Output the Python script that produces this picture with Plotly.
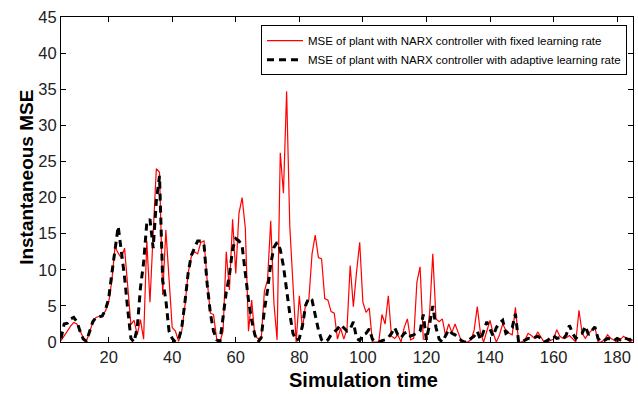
import plotly.graph_objects as go

x_start = 5
fixed_mse = [
    0.2, 0.8, 1.5, 2.2, 2.7, 2.5, 1.6, 0.6, 0.1, 1.3,      # 5-14
    2.7, 3.4, 3.5, 3.7, 4.3, 5.5, 8.5, 13.2, 12.3, 11.6,   # 15-24
    13.0, 7.0, 2.4, 3.0, 1.0, 3.1, 0.4, 14.0, 5.5, 15.0,   # 25-34
    24.0, 23.5, 6.5, 15.5, 8.0, 2.0, 1.5, 0.1, 1.5, 5.0,   # 35-44
    9.5, 11.8, 12.5, 12.2, 13.8, 14.0, 8.5, 4.0, 3.8, 0.4, # 45-54
    0.0, 1.5, 12.5, 7.2, 17.0, 9.5, 17.8, 20.0, 15.8, 1.5, # 55-64
    5.8, 0.8, 0.5, 0.4, 7.0, 8.6, 16.8, 5.4, 0.3, 26.2,    # 65-74
    20.6, 34.7, 16.0, 7.0, 0.0, 6.4, 1.8, 5.4, 5.9, 12.2,  # 75-84
    14.8, 11.7, 11.5, 6.0, 5.8, 4.2, 4.0, 0.4, 1.9, 0.4,   # 85-94
    1.8, 10.6, 4.9, 9.7, 13.8, 5.5, 4.1, 4.7, 0.0, 0.0,    # 95-104
    0.0, 3.8, 2.5, 6.4, 0.8, 0.5, 1.0, 0.0, 2.0, 3.2,      # 105-114
    0.3, 0.5, 8.3, 10.4, 0.4, 0.3, 4.0, 12.2, 3.2, 2.8,    # 115-124
    3.2, 0.9, 2.5, 1.3, 2.5, 1.3, 0.1, 0.0, 0.0, 0.3,      # 125-134
    1.6, 4.9, 1.2, 0.0, 1.5, 3.0, 1.2, 0.0, 1.0, 2.5,      # 135-144
    1.6, 1.2, 1.0, 4.8, 0.0, 0.0, 0.3, 1.2, 0.9, 0.5,      # 145-154
    1.4, 0.6, 0.0, 0.0, 0.2, 0.4, 1.7, 0.8, 0.5, 0.6,      # 155-164
    0.9, 0.4, 0.0, 4.4, 1.2, 0.5, 1.2, 1.6, 2.1, 0.0,      # 165-174
    0.0, 0.3, 1.0, 0.5, 0.2, 0.0, 0.3, 0.8, 0.5, 0.0,      # 175-184
    0.3,                                                   # 185
]
adaptive_mse = [
    0.5, 2.5, 2.6, 3.2, 3.4, 2.8, 1.5, 0.4, 0.1, 1.5,      # 5-14
    2.8, 3.4, 3.5, 3.6, 4.5, 6.0, 9.5, 13.0, 16.0, 12.5,   # 15-24
    9.0, 4.5, 0.5, 0.0, 2.0, 7.5, 11.0, 16.5, 17.0, 13.0,  # 25-34
    19.5, 23.0, 8.5, 5.8, 1.5, 0.5, 0.0, 0.3, 2.0, 5.5,    # 35-44
    9.5, 12.0, 13.0, 14.0, 14.0, 13.5, 8.0, 4.0, 1.5, 0.3, # 45-54
    0.0, 3.2, 6.9, 9.2, 12.9, 14.3, 14.0, 13.3, 9.5, 5.8,  # 55-64
    3.0, 1.0, 0.0, 0.6, 4.4, 7.2, 10.8, 13.1, 13.8, 12.8,  # 65-74
    10.5, 7.1, 3.9, 1.2, 0.2, 0.5, 2.3, 5.1, 6.1, 5.8,     # 75-84
    3.5, 1.7, 0.3, 0.0, 0.3, 1.0, 1.4, 1.8, 2.4, 2.0,      # 85-94
    1.5, 1.8, 2.8, 0.5, 0.2, 1.0, 1.2, 1.8, 0.4, 0.0,      # 95-104
    0.0, 0.2, 0.3, 0.6, 1.2, 2.0, 1.0, 0.6, 1.2, 1.4,      # 105-114
    0.8, 1.0, 1.2, 1.5, 3.8, 0.3, 2.5, 5.0, 2.0, 0.4,      # 115-124
    0.0, 0.8, 1.7, 1.2, 1.0, 0.6, 0.2, 0.0, 0.0, 0.5,      # 125-134
    0.8, 1.5, 0.3, 1.5, 2.8, 1.8, 0.8, 2.0, 2.6, 3.0,      # 135-144
    1.2, 1.5, 2.0, 3.9, 0.0, 0.0, 0.3, 0.5, 0.4, 0.6,      # 145-154
    0.8, 0.5, 0.0, 0.2, 0.5, 0.9, 0.5, 0.6, 0.4, 1.0,      # 155-164
    2.3, 1.2, 0.5, 1.0, 1.2, 2.2, 1.0, 1.5, 2.1, 0.5,      # 165-174
    0.0, 0.2, 0.5, 0.4, 0.2, 0.5, 0.3, 0.6, 0.4, 0.3,      # 175-184
    0.8,                                                   # 185
]
sim_time = list(range(x_start, x_start + len(fixed_mse)))

x_ticks = [20, 40, 60, 80, 100, 120, 140, 160, 180]
y_ticks = [0, 5, 10, 15, 20, 25, 30, 35, 40, 45]

FONT = "Liberation Sans, Arial, sans-serif"

fig = go.Figure()
fig.add_trace(go.Scatter(
    x=sim_time, y=fixed_mse, mode="lines",
    name="MSE of plant with NARX controller with fixed learning rate",
    line=dict(color="#ff0000", width=1.2),
))
fig.add_trace(go.Scatter(
    x=sim_time, y=adaptive_mse, mode="lines",
    name="MSE of plant with NARX controller with adaptive learning rate",
    line=dict(color="#000000", width=3, dash="7px,5px"),
))

axis_common = dict(
    showline=True, linecolor="black", linewidth=1, mirror="ticks",
    ticks="inside", ticklen=5, tickcolor="black", showgrid=False, zeroline=False,
    tickfont=dict(family=FONT, size=16.5, color="#222"),
)
fig.update_xaxes(range=[5, 185], tickvals=x_ticks, **axis_common)
fig.update_yaxes(range=[0, 45], tickvals=y_ticks, **axis_common)

fig.add_annotation(
    text="<b>Simulation time</b>", xref="paper", yref="paper",
    x=0.528, y=-0.117, xanchor="center", yanchor="middle", showarrow=False,
    font=dict(family=FONT, size=20, color="black"),
)
fig.add_annotation(
    text="<b>Instantaneous MSE</b>", xref="paper", yref="paper",
    x=-0.0595, y=0.508, xanchor="center", yanchor="middle", showarrow=False,
    textangle=-90, font=dict(family=FONT, size=19, color="black"),
)

fig.update_layout(
    width=638, height=394,
    margin=dict(l=61, r=5, t=17, b=52),
    paper_bgcolor="white", plot_bgcolor="white",
    showlegend=True,
    legend=dict(
        x=0.9895, xanchor="right", y=0.975, yanchor="top",
        bgcolor="white", bordercolor="black", borderwidth=1,
        font=dict(family=FONT, size=11.5, color="black"),
        itemwidth=36, tracegroupgap=0,
    ),
)

fig.write_html("out.html")
